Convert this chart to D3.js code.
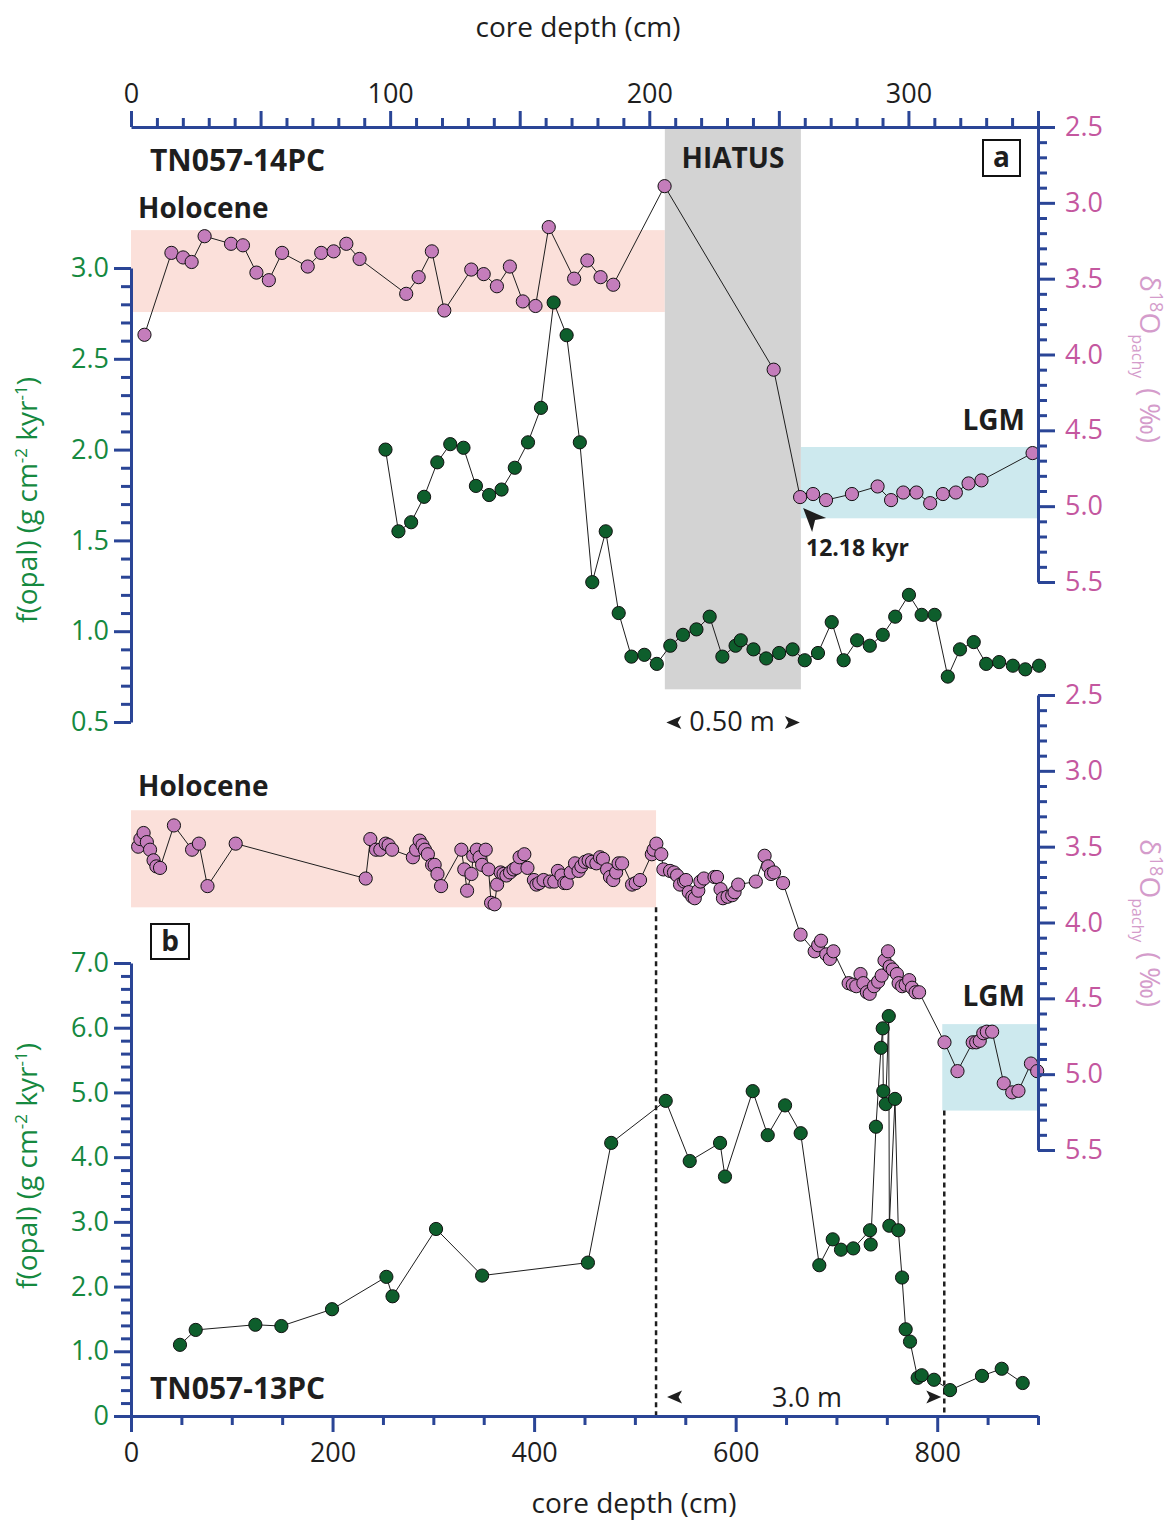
<!DOCTYPE html>
<html><head><meta charset="utf-8">
<script src="https://cdn.jsdelivr.net/npm/d3@7"></script>
<style>
body{margin:0;background:#fff}
svg{display:block}
text{font-family:"Open Sans","DejaVu Sans",sans-serif}
</style>
</head><body>
<svg id="c" width="1173" height="1520"></svg>
<script>
// ---------------- DATA ----------------
// Panel a (TN057-14PC)
const isoDepthA = [5.2,15.6,20.1,23.4,28.4,38.6,43.2,48.4,53.2,58.3,68.2,73.4,78.2,83.1,88.2,106.2,111.0,116.1,120.9,131.3,136.1,141.2,146.2,151.2,156.1,161.2,171.0,176.1,181.2,186.1,205.9,248.0,258.2,263.2,268.2,278.2,288.1,293.3,298.0,303.1,308.4,313.3,318.3,323.2,328.2,347.9];
const isoA = [3.87,3.33,3.36,3.39,3.22,3.27,3.28,3.46,3.51,3.33,3.42,3.33,3.32,3.27,3.37,3.60,3.49,3.32,3.71,3.44,3.47,3.55,3.42,3.65,3.68,3.16,3.50,3.38,3.49,3.54,2.89,4.10,4.94,4.92,4.96,4.92,4.87,4.96,4.91,4.91,4.98,4.92,4.91,4.85,4.83,4.65];
const opalDepthA = [98.2,103.2,108.1,113.1,118.2,123.2,128.3,133.1,138.2,143.0,148.1,153.2,158.2,163.1,168.1,173.2,178.0,183.2,188.2,193.1,198.1,202.9,208.1,213.0,218.2,223.3,228.2,233.3,235.3,240.2,245.1,250.1,255.3,260.0,265.1,270.4,275.0,280.2,285.1,290.1,294.9,300.2,305.1,310.1,315.2,319.9,325.2,330.0,335.0,340.3,345.1,350.4];
const opalA = [2.00,1.55,1.60,1.74,1.93,2.03,2.01,1.80,1.75,1.78,1.90,2.04,2.23,2.81,2.63,2.04,1.27,1.55,1.10,0.86,0.87,0.82,0.92,0.98,1.01,1.08,0.86,0.92,0.95,0.90,0.85,0.88,0.90,0.84,0.88,1.05,0.84,0.95,0.92,0.98,1.08,1.20,1.09,1.09,0.75,0.90,0.94,0.82,0.83,0.81,0.79,0.81];

// Panel b (TN057-13PC)
const isoDepthB = [7.1,9.3,12.5,15.7,18.9,22.4,25.2,28.8,42.6,60.6,
67.4,75.9,103.9,232.9,237.5,243.1,247.4,252.7,255.6,259.1,
279.7,282.9,286.4,289.3,291.7,294.6,298.8,301.3,304.1,307.7,
327.8,330.7,333.5,337.8,339.6,343.1,345.9,348.4,352.0,354.8,
357.3,360.8,363.3,366.8,369.7,372.5,376.1,379.6,382.4,385.6,
390.3,393.4,399.8,402.3,405.1,409.4,415.8,420.0,423.6,427.1,
430.0,432.4,436.3,440.6,444.1,446.9,450.5,454.1,457.5,461.8,
465.4,468.3,472.4,475.3,478.5,481.4,483.8,487.3,497.2,500.8,
505.1,516.8,518.6,521.3,526.2,528.3,534.9,538.8,541.9,544.8,
548.9,550.7,553.5,557.0,559.4,562.9,565.0,568.5,579.0,581.5,
585.0,587.4,592.0,596.6,598.9,602.5,620.0,628.7,632.2,635.1,
638.1,647.0,664.4,678.4,681.9,684.7,689.9,693.5,697.0,712.1,
716.2,719.7,723.9,726.7,730.2,733.0,737.3,741.4,744.9,747.7,
751.2,752.9,755.8,760.0,761.7,765.2,768.7,772.2,775.0,778.5,
782.0,807.2,820.1,835.2,838.7,842.2,845.7,849.2,854.5,866.0,
874.4,880.6,893.0,899.2];
const isoB = [3.50,3.45,3.41,3.47,3.52,3.59,3.63,3.64,3.36,3.52,
3.48,3.76,3.48,3.71,3.45,3.52,3.52,3.48,3.49,3.52,
3.57,3.52,3.46,3.49,3.52,3.55,3.62,3.62,3.68,3.76,
3.52,3.65,3.79,3.68,3.56,3.52,3.57,3.62,3.52,3.65,
3.87,3.88,3.75,3.67,3.68,3.69,3.67,3.65,3.64,3.57,
3.55,3.64,3.72,3.75,3.74,3.72,3.73,3.73,3.66,3.69,
3.74,3.74,3.67,3.61,3.66,3.63,3.60,3.59,3.60,3.61,
3.57,3.58,3.65,3.70,3.72,3.67,3.61,3.61,3.75,3.74,
3.72,3.55,3.52,3.48,3.55,3.65,3.66,3.67,3.69,3.75,
3.73,3.72,3.80,3.83,3.84,3.79,3.73,3.71,3.70,3.70,
3.78,3.84,3.83,3.82,3.80,3.75,3.73,3.56,3.63,3.68,
3.67,3.74,4.08,4.19,4.15,4.12,4.21,4.24,4.19,4.40,
4.41,4.42,4.34,4.40,4.46,4.47,4.42,4.39,4.35,4.25,
4.19,4.29,4.31,4.34,4.40,4.42,4.41,4.38,4.43,4.46,
4.46,4.79,4.98,4.79,4.79,4.78,4.73,4.72,4.72,5.06,
5.12,5.11,4.93,4.98];
const opalDepthB = [48.6,64.2,123.4,149.2,199.5,253.4,259.5,302.7,348.4,453.4,
476.5,530.6,554.4,584.5,589.4,616.9,631.8,649.0,664.5,683.0,
696.3,704.5,716.7,733.3,734.0,739.2,744.2,745.9,746.5,748.9,
751.9,752.5,758.1,761.4,765.1,768.7,773.0,780.6,784.6,796.8,
812.7,844.4,864.0,884.8];
const opalB = [1.10,1.33,1.41,1.39,1.65,2.15,1.85,2.89,2.17,2.37,
4.22,4.87,3.94,4.22,3.70,5.02,4.34,4.80,4.37,2.33,
2.73,2.57,2.59,2.87,2.65,4.47,5.69,5.99,5.02,4.82,
6.18,2.94,4.90,2.87,2.14,1.34,1.15,0.59,0.63,0.56,
0.40,0.62,0.73,0.51];

// Bands / annotations [depthStart, depthEnd, valueTop, valueBottom]
const holoBandA = [0, 206, 3.18, 3.72];
const hiatusA = [206, 258.5, 2.5, 0.68];   // iso top, opal bottom
const lgmBandA = [258.5, 350, 4.61, 5.08];
const holoBandB = [0, 521, 3.26, 3.90];
const lgmBandB = [805, 900, 4.67, 5.24];
const dashB = [521, 807];

// Tick values
const topMajor = [0,50,100,150,200,250,300,350];
const topLabels = [0,100,200,300];
const botMajor = [0,200,400,600,800];
const isoMajor = [2.5,3.0,3.5,4.0,4.5,5.0,5.5];
const opalMajorA = [0.5,1.0,1.5,2.0,2.5,3.0];
const opalMajorB = [0,1,2,3,4,5,6,7];

// ---------------- SCALES ----------------
const xA = d3.scaleLinear().domain([0,350]).range([131,1038]);
const yIsoA = d3.scaleLinear().domain([2.5,5.5]).range([127,582]);
const yOpalA = d3.scaleLinear().domain([0.5,3.0]).range([722,268]);
const xB = d3.scaleLinear().domain([0,900]).range([131,1038]);
const yIsoB = d3.scaleLinear().domain([2.5,5.5]).range([695,1150]);
const yOpalB = d3.scaleLinear().domain([0,7]).range([1416,963]);

const AX = "#2a4596", GREEN = "#15893f", PINK = "#c4579f", PINKT = "#d49ccb";
const DOTG = "#0e5e2c", DOTP = "#c47dbb", INK = "#1e1e1e";
const FONT = '"Open Sans","DejaVu Sans",sans-serif';

const svg = d3.select("#c");

// ---------------- BANDS ----------------
const bands = svg.append("g");
function band(x, y, d0, d1, v0, v1, fill){
  bands.append("rect").attr("x", x(d0)).attr("width", x(d1)-x(d0))
    .attr("y", Math.min(y(v0), y(v1))).attr("height", Math.abs(y(v1)-y(v0))).attr("fill", fill);
}
band(xA, yIsoA, holoBandA[0], holoBandA[1], holoBandA[2], holoBandA[3], "#fbe0da");
band(xA, yIsoA, lgmBandA[0], lgmBandA[1], lgmBandA[2], lgmBandA[3], "#cde9ee");
bands.append("rect").attr("x", xA(hiatusA[0])).attr("width", xA(hiatusA[1])-xA(hiatusA[0]))
  .attr("y", yIsoA(hiatusA[2])).attr("height", yOpalA(hiatusA[3]) - yIsoA(hiatusA[2])).attr("fill", "#d3d3d3");
band(xB, yIsoB, holoBandB[0], holoBandB[1], holoBandB[2], holoBandB[3], "#fbe0da");
band(xB, yIsoB, lgmBandB[0], lgmBandB[1], lgmBandB[2], lgmBandB[3], "#cde9ee");

// dashed lines panel b
svg.append("line").attr("x1", xB(dashB[0])).attr("x2", xB(dashB[0]))
  .attr("y1", yIsoB(holoBandB[3])).attr("y2", yOpalB(0))
  .attr("stroke", INK).attr("stroke-width", 2.5).attr("stroke-dasharray", "5,4");
svg.append("line").attr("x1", xB(dashB[1])).attr("x2", xB(dashB[1]))
  .attr("y1", yIsoB(lgmBandB[3])).attr("y2", yOpalB(0))
  .attr("stroke", INK).attr("stroke-width", 2.5).attr("stroke-dasharray", "5,4");

// ---------------- SERIES ----------------
function series(xs, ys, x, y){
  const pts = d3.zip(xs, ys);
  svg.append("path").datum(pts)
    .attr("d", d3.line().x(d => x(d[0])).y(d => y(d[1])))
    .attr("fill", "none").attr("stroke", INK).attr("stroke-width", 1);
  return pts;
}
function dots(pts, x, y, fill){
  svg.append("g").selectAll("circle").data(pts).join("circle")
    .attr("cx", d => x(d[0])).attr("cy", d => y(d[1])).attr("r", 6.6)
    .attr("fill", fill).attr("stroke", "#111").attr("stroke-width", 1);
}
const pIA = series(isoDepthA, isoA, xA, yIsoA);
const pOA = series(opalDepthA, opalA, xA, yOpalA);
const pIB = series(isoDepthB, isoB, xB, yIsoB);
const pOB = series(opalDepthB, opalB, xB, yOpalB);
dots(pIA, xA, yIsoA, DOTP);
dots(pOA, xA, yOpalA, DOTG);
dots(pIB, xB, yIsoB, DOTP);
dots(pOB, xB, yOpalB, DOTG);

// ---------------- AXES ----------------
function styleAxis(g, color, size){
  g.attr("font-family", null).attr("font-size", null);
  g.selectAll("path.domain").attr("stroke", AX).attr("stroke-width", 3);
  g.selectAll(".tick line").attr("stroke", AX).attr("stroke-width", 3);
  g.selectAll(".tick text").attr("fill", color).style("font-family", FONT).style("font-size", size + "px");
}
function makeAxis(gen, scale, tr, majors, minors, majSize, minSize, fmt, pad, color){
  const gm = svg.append("g").attr("transform", tr)
    .call(gen(scale).tickValues(minors).tickSize(minSize).tickFormat("").tickSizeOuter(0));
  gm.select(".domain").remove();
  styleAxis(gm, color, 27);
  const g = svg.append("g").attr("transform", tr)
    .call(gen(scale).tickValues(majors).tickSize(majSize).tickFormat(fmt).tickSizeOuter(0).tickPadding(pad));
  styleAxis(g, color, 27);
}
// top axis (panel a depth)
makeAxis(d3.axisTop, xA, `translate(0,${yIsoA(2.5)})`, topMajor,
  d3.range(0, 351, 10).filter(v => v % 50 !== 0), 16, 9,
  d => topLabels.includes(d) ? String(d) : "", 8, INK);
// left axis a
makeAxis(d3.axisLeft, yOpalA, `translate(${xA(0)},0)`, opalMajorA,
  d3.range(5, 31).filter(v => v % 5 !== 0).map(v => v/10), 17, 10,
  d => d.toFixed(1), 5, GREEN);
// right axis a
makeAxis(d3.axisRight, yIsoA, `translate(${xA(350)},0)`, isoMajor,
  d3.range(25, 56).filter(v => v % 5 !== 0).map(v => v/10), 17, 9,
  d => d.toFixed(1), 10, PINK);
// bottom axis b
makeAxis(d3.axisBottom, xB, `translate(0,${yOpalB(0)})`, botMajor,
  d3.range(0, 901, 50).filter(v => v % 200 !== 0), 16, 9,
  d => String(d), 11, INK);
// left axis b
makeAxis(d3.axisLeft, yOpalB, `translate(${xB(0)},0)`, opalMajorB,
  d3.range(0, 36).filter(v => v % 5 !== 0).map(v => v/5), 17, 10,
  d => d === 0 ? "0" : d.toFixed(1), 5, GREEN);
// right axis b
makeAxis(d3.axisRight, yIsoB, `translate(${xB(900)},0)`, isoMajor,
  d3.range(25, 56).filter(v => v % 5 !== 0).map(v => v/10), 17, 9,
  d => d.toFixed(1), 10, PINK);

// ---------------- TEXT ----------------
function txt(x, y, s, opts = {}){
  return svg.append("text").attr("x", x).attr("y", y).text(s)
    .attr("fill", opts.fill || INK)
    .attr("text-anchor", opts.anchor || "start")
    .style("font-size", (opts.size || 28) + "px")
    .style("font-weight", opts.bold ? "700" : "400");
}
txt(578, 37, "core depth (cm)", {anchor: "middle", size: 28});
txt(634, 1513, "core depth (cm)", {anchor: "middle", size: 28});

txt(150, 171, "TN057-14PC", {bold: true, size: 30});
txt(138, 218, "Holocene", {bold: true, size: 28});
txt(733, 168, "HIATUS", {bold: true, size: 28, anchor: "middle"});
txt(1025, 430, "LGM", {bold: true, size: 28, anchor: "end"});
txt(806, 556, "12.18 kyr", {bold: true, size: 23});
txt(732, 731, "0.50 m", {size: 27, anchor: "middle"});

txt(138, 796, "Holocene", {bold: true, size: 28});
txt(1025, 1006, "LGM", {bold: true, size: 28, anchor: "end"});
txt(150, 1399, "TN057-13PC", {bold: true, size: 30});
txt(807, 1407, "3.0 m", {size: 27, anchor: "middle"});

// panel labels in boxes
svg.append("rect").attr("x", 983).attr("y", 140).attr("width", 37).attr("height", 36)
  .attr("fill", "#fff").attr("stroke", "#111").attr("stroke-width", 2);
txt(1001.5, 167, "a", {bold: true, size: 28, anchor: "middle"});
svg.append("rect").attr("x", 151).attr("y", 924).attr("width", 38).attr("height", 35)
  .attr("fill", "#fff").attr("stroke", "#111").attr("stroke-width", 2);
txt(170, 951, "b", {bold: true, size: 28, anchor: "middle"});

// arrowheads
function arrow(tx, ty, dir){ // dir -1 pointing left, +1 pointing right
  const s = -dir;
  svg.append("path")
    .attr("d", `M${tx},${ty} L${tx + s*15},${ty-6.5} L${tx + s*11.5},${ty} L${tx + s*15},${ty+6.5} Z`)
    .attr("fill", INK);
}
arrow(xA(hiatusA[0]) + 1.5, 722.5, -1);
arrow(xA(hiatusA[1]) - 1, 722.5, 1);
arrow(xB(dashB[0]) + 11, 1397, -1);
arrow(xB(dashB[1]) - 3, 1397, 1);
// 12.18 kyr pointer
{
  const tx = xA(isoDepthA[32]) + 3, ty = yIsoA(isoA[32]) + 11;
  svg.append("path")
    .attr("d", `M${tx},${ty} L${tx+23},${ty+10} L${tx+12},${ty+12} L${tx+9},${ty+24} Z`)
    .attr("fill", INK);
}

// axis titles
function leftTitle(cy){
  const t = svg.append("text").attr("transform", `translate(37,${cy}) rotate(-90)`)
    .attr("text-anchor", "middle").attr("fill", GREEN).style("font-size", "28px");
  t.append("tspan").text("f(opal) (g cm");
  t.append("tspan").text("-2").attr("dy", -10).style("font-size", "17px");
  t.append("tspan").text(" kyr").attr("dy", 10);
  t.append("tspan").text("-1").attr("dy", -10).style("font-size", "17px");
  t.append("tspan").text(")").attr("dy", 10);
}
leftTitle(500);
leftTitle(1166);

function rightTitle(y0){
  const t = svg.append("text").attr("transform", `translate(1140,${y0}) rotate(90)`)
    .attr("fill", PINKT).style("font-size", "28px");
  t.append("tspan").text("δ");
  t.append("tspan").text("18").attr("dy", -10).style("font-size", "18px");
  t.append("tspan").text("O").attr("dy", 10);
  t.append("tspan").text("pachy").attr("dy", 8).style("font-size", "16px");
  t.append("tspan").text(" ( ‰)").attr("dy", -8).attr("dx", 3).style("font-size", "27px");
}
rightTitle(275);
rightTitle(839);
</script>
</body></html>
